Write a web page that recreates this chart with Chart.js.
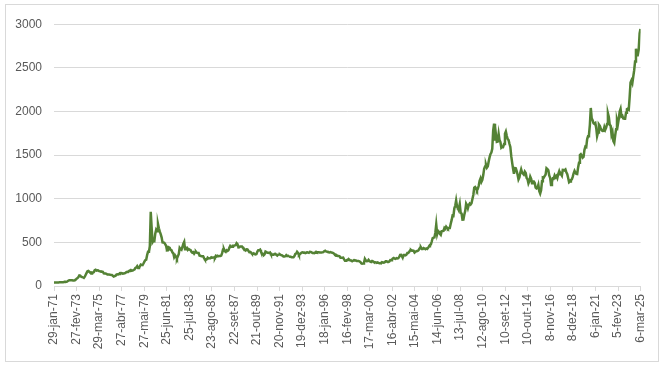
<!DOCTYPE html>
<html>
<head>
<meta charset="utf-8">
<script src="https://cdn.jsdelivr.net/npm/chart.js@4/dist/chart.umd.min.js"></script>
<style>
  html, body { margin: 0; padding: 0; background: #fff; }
  #box {
    position: absolute; left: 5px; top: 4px;
    width: 652px; height: 356px;
    border: 1px solid #d9d9d9;
  }
</style>
</head>
<body>
<div id="box"><canvas id="grafico" width="652" height="356"></canvas></div>
<script>
  // preço mensal (USD/onça), um array por década, a começar em jan-1971
  const precos1970 = [
    37.9, 38.7, 38.9, 39.0, 40.5, 40.1, 41.0, 42.7, 42.0, 42.5, 42.9, 43.6,
    45.8, 48.3, 48.3, 49.0, 54.6, 62.1, 65.7, 67.0, 65.5, 64.9, 62.9, 63.9,
    65.1, 74.2, 84.4, 90.5, 102.0, 122.5, 120.2, 106.8, 103.0, 100.1, 94.0, 106.7,
    129.0, 150.2, 168.4, 172.2, 163.3, 154.1, 143.0, 154.6, 151.8, 158.8, 181.7, 186.0,
    176.3, 179.6, 178.2, 170.0, 167.2, 164.2, 165.2, 163.1, 144.1, 142.8, 142.8, 139.3,
    131.2, 131.4, 132.6, 127.9, 126.9, 125.8, 118.0, 109.0, 114.1, 116.0, 130.6, 133.9,
    132.3, 136.3, 148.3, 149.3, 146.7, 140.8, 143.4, 144.8, 149.5, 158.8, 162.1, 160.5,
    173.2, 178.2, 183.7, 175.3, 176.3, 183.7, 188.7, 206.1, 212.4, 227.4, 206.1, 207.8,
    227.3, 245.7, 242.0, 239.2, 257.6, 279.1, 294.7, 300.8, 355.1, 391.7, 392.5, 455.1
  ];
  const precos1980 = [
    850, 665, 500, 517, 514, 600, 644, 627, 710, 661, 623, 595,
    557.4, 500.1, 498.6, 495.8, 479.7, 460.8, 409.3, 410.1, 443.9, 437.8, 413.4, 410.1,
    384.4, 374.0, 330.5, 350.5, 333.9, 314.0, 340.1, 364.8, 436.6, 422.3, 415.3, 444.2,
    481.3, 505, 419.7, 432.9, 437.9, 413.0, 422.7, 416.2, 411.8, 393.5, 381.7, 387.9,
    370.9, 386.0, 394.4, 381.3, 377.5, 377.7, 348.2, 347.6, 341.1, 340.2, 341.1, 320.3,
    302.8, 299.0, 304.3, 325.0, 316.5, 316.8, 317.4, 329.6, 323.3, 325.3, 325.3, 322.7,
    345.4, 339.3, 346.1, 340.8, 342.4, 342.5, 348.5, 376.5, 418.9, 423.4, 398.1, 391.1,
    408.3, 401.0, 409.1, 438.4, 460.1, 449.0, 451.0, 461.0, 460.1, 465.4, 467.9, 490,
    478.6, 442.1, 443.5, 451.3, 451.3, 451.7, 437.6, 431.4, 413.1, 406.6, 420.5, 418.4,
    404.0, 387.8, 390.2, 384.3, 371.0, 367.6, 375.2, 365.4, 361.9, 366.5, 394.3, 409.4
  ];
  const precos1990 = [
    410.1, 416.8, 393.1, 374.3, 369.6, 352.3, 362.5, 395.0, 389.3, 380.8, 381.5, 378.2,
    383.7, 363.3, 363.5, 358.4, 357.4, 366.7, 367.7, 356.3, 348.7, 358.7, 359.6, 361.7,
    354.5, 353.9, 344.3, 338.6, 337.2, 340.8, 353.0, 343.0, 345.4, 344.4, 335.0, 334.7,
    329.0, 329.3, 330.1, 342.2, 367.2, 371.3, 392.0, 379.8, 355.3, 364.2, 373.9, 383.3,
    386.9, 381.9, 384.1, 377.3, 381.4, 385.6, 385.5, 380.4, 391.6, 389.8, 384.4, 379.3,
    378.6, 376.5, 382.1, 391.0, 385.3, 387.6, 386.2, 383.7, 383.1, 383.0, 385.5, 387.4,
    399.5, 404.8, 396.2, 392.9, 391.9, 385.3, 383.5, 387.5, 383.1, 381.1, 377.8, 369.3,
    354.1, 346.6, 351.8, 344.5, 343.8, 340.8, 324.1, 324.0, 322.8, 324.9, 306.0, 289.0,
    289.1, 297.5, 295.9, 308.3, 299.1, 292.3, 292.9, 284.1, 289.0, 295.9, 294.1, 291.6,
    287.3, 287.3, 285.9, 282.6, 276.4, 261.3, 256.2, 256.7, 264.7, 310.7, 293.2, 283.1
  ];
  const precos2000 = [
    284.6, 300.0, 286.4, 279.7, 275.2, 285.7, 281.6, 274.5, 273.7, 270.0, 266.0, 271.5,
    265.5, 261.9, 263.0, 260.5, 272.4, 270.2, 267.5, 272.4, 283.4, 283.1, 276.2, 275.9,
    281.7, 295.5, 294.1, 302.7, 314.5, 321.2, 313.3, 310.3, 319.2, 316.6, 319.1, 332.6,
    356.9, 358.0, 340.6, 328.2, 355.7, 356.4, 351.0, 359.8, 378.9, 378.9, 389.9, 407.6,
    414.0, 405.3, 406.7, 403.0, 383.8, 392.4, 398.1, 400.5, 405.3, 420.5, 439.4, 442.1,
    424.0, 423.4, 434.2, 429.2, 421.9, 430.7, 424.5, 437.9, 456.0, 469.9, 476.7, 509.8,
    549.9, 555.0, 557.1, 610.6, 705, 596.2, 633.7, 632.6, 598.2, 585.8, 627.8, 629.8,
    631.2, 664.8, 654.9, 679.4, 666.9, 655.5, 665.3, 665.4, 712.7, 754.6, 806.3, 803.2,
    889.6, 922.3, 980, 909.7, 888.7, 889.5, 939.8, 839.0, 829.9, 760, 760.9, 816.1,
    858.7, 943.2, 924.3, 890.2, 928.6, 945.7, 934.2, 949.4, 996.6, 1043.2, 1127.0, 1134.7
  ];
  const precos2010 = [
    1117.9, 1095.4, 1113.3, 1148.7, 1205.4, 1232.9, 1193.0, 1215.8, 1270.9, 1342.0, 1369.9, 1390.6,
    1356.4, 1372.7, 1424.0, 1473.8, 1510.4, 1528.7, 1572.8, 1780, 1860, 1665.2, 1738.9, 1652.2,
    1656.1, 1742.6, 1673.8, 1650.1, 1585.5, 1596.7, 1593.9, 1626.0, 1744.5, 1770, 1721.6, 1684.8,
    1671.9, 1627.6, 1593.1, 1487.9, 1414.0, 1343.4, 1285.5, 1351.7, 1348.6, 1316.6, 1275.9, 1221.5,
    1244.3, 1300.0, 1336.1, 1299.0, 1287.5, 1279.1, 1310.6, 1295.1, 1236.6, 1222.5, 1176.3, 1200.6,
    1251.8, 1227.1, 1178.6, 1198.9, 1198.6, 1181.5, 1128.3, 1117.9, 1124.5, 1159.3, 1086.4, 1060,
    1097.9, 1199.5, 1245.1, 1242.3, 1260.9, 1276.4, 1350, 1340.2, 1326.6, 1266.6, 1238.4, 1157.4,
    1192.1, 1234.2, 1231.1, 1266.9, 1246.0, 1260.3, 1236.8, 1283.0, 1314.1, 1279.5, 1281.9, 1264.5,
    1331.3, 1330.7, 1324.7, 1334.8, 1303.5, 1281.6, 1237.7, 1190, 1198.4, 1215.4, 1220.7, 1250.4,
    1291.8, 1320.1, 1300.9, 1285.9, 1283.7, 1359.0, 1412.9, 1500.4, 1510.6, 1494.8, 1470.0, 1479.1
  ];
  const precos2020 = [
    1560.7, 1597.1, 1591.9, 1683.2, 1715.9, 1732.2, 1846.5, 2040, 1921.9, 1900.3, 1866.3, 1858.4,
    1867.0, 1808.2, 1718.2, 1760.0, 1850.3, 1834.6, 1807.8, 1785.3, 1775.7, 1776.9, 1821.2, 1790.4,
    1816.0, 1856.3, 1980, 1937.4, 1848.5, 1836.6, 1732.7, 1764.6, 1660, 1640, 1725.1, 1797.6,
    1897.9, 1854.6, 1912.7, 2000.4, 2030, 1942.9, 1951.0, 1918.7, 1916.0, 1916.7, 1985.5, 2026.9,
    2033.0, 2023.6, 2158.4, 2331.0, 2355.1, 2325.7, 2398.2, 2470.2, 2572.5, 2720, 2651.0, 2648.0,
    2709.7, 2894.1, 2945
  ];

  // rótulos do eixo x (datas)
  const datasEixo = [
    '1971-01-29', '1973-02-27', '1975-03-29', '1977-04-27', '1979-05-27', '1981-06-25',
    '1983-07-25', '1985-08-23', '1987-09-22', '1989-10-21', '1991-11-20', '1993-12-19',
    '1996-01-18', '1998-02-16', '2000-03-17', '2002-04-16', '2004-05-15', '2006-06-14',
    '2008-07-13', '2010-08-12', '2012-09-10', '2014-10-10', '2016-11-08', '2018-12-08',
    '2021-01-06', '2023-02-05', '2025-03-06'
  ];
  const rotulosEixo = [
    '29-jan-71', '27-fev-73', '29-mar-75', '27-abr-77', '27-mai-79', '25-jun-81',
    '25-jul-83', '23-ago-85', '22-set-87', '21-out-89', '20-nov-91', '19-dez-93',
    '18-jan-96', '16-fev-98', '17-mar-00', '16-abr-02', '15-mai-04', '14-jun-06',
    '13-jul-08', '12-ago-10', '10-set-12', '10-out-14', '8-nov-16', '8-dez-18',
    '6-jan-21', '5-fev-23', '6-mar-25'
  ];
  const ticksY = [0, 500, 1000, 1500, 2000, 2500, 3000];

  const precos = [].concat(precos1970, precos1980, precos1990, precos2000, precos2010, precos2020);
  const pontos = precos.map((v, i) => ({ x: Date.UTC(1971, i, 1), y: v }));
  const posTicks = datasEixo.map(d => Date.parse(d + 'T00:00:00Z'));

  const cinza = '#d9d9d9';
  const texto = '#595959';
  const fonte = { family: 'Liberation Sans', size: 12 };

  new Chart(document.getElementById('grafico').getContext('2d'), {
    type: 'line',
    data: {
      datasets: [{
        data: pontos,
        borderColor: '#548235',
        borderWidth: 2.5,
        pointRadius: 0,
        tension: 0,
        fill: false
      }]
    },
    options: {
      responsive: false,
      animation: false,
      layout: { padding: { top: 15, right: 16, left: 0, bottom: 0 } },
      plugins: { legend: { display: false }, tooltip: { enabled: false } },
      scales: {
        x: {
          type: 'linear',
          min: posTicks[0],
          max: posTicks[posTicks.length - 1],
          afterBuildTicks: ax => { ax.ticks = posTicks.map(v => ({ value: v })); },
          afterFit: ax => { ax.height = 75; },
          grid: { drawOnChartArea: false, drawTicks: true, tickLength: 5, color: cinza },
          border: { display: true, color: cinza },
          ticks: {
            autoSkip: false,
            minRotation: 90,
            maxRotation: 90,
            padding: 3,
            color: texto,
            font: fonte,
            callback: (v, i) => rotulosEixo[i]
          }
        },
        y: {
          min: 0,
          max: 3000,
          afterBuildTicks: ax => { ax.ticks = ticksY.map(v => ({ value: v })); },
          afterFit: ax => { ax.width = 48; },
          grid: { color: cinza, drawTicks: false },
          border: { display: false },
          ticks: { padding: 12, color: texto, font: fonte, callback: v => String(v) }
        }
      }
    }
  });
</script>
</body>
</html>
